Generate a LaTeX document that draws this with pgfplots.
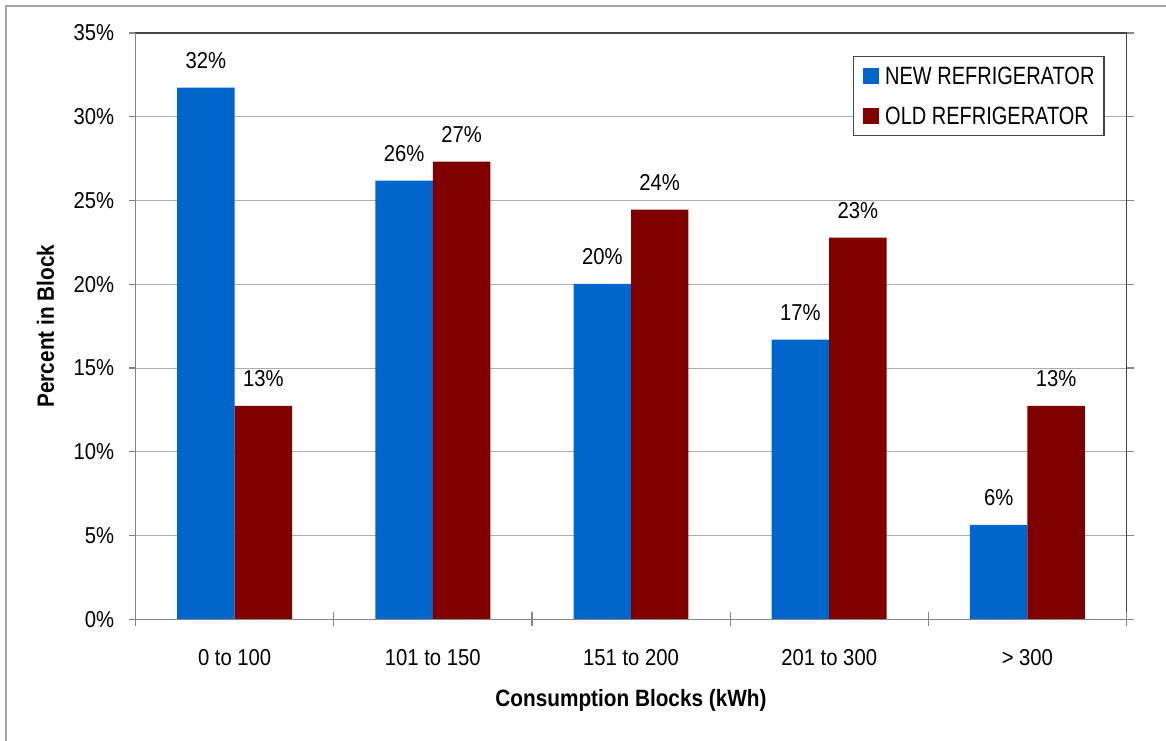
\documentclass[border=0pt]{standalone}
\usepackage{fontspec}
\setmainfont{Liberation Sans}[FakeStretch=0.88]
\newfontfamily\legendfont{Liberation Sans}[FakeStretch=0.8]
\usepackage{pgfplots}
\pgfplotsset{compat=1.18}

\definecolor{newbar}{RGB}{0,102,204}
\definecolor{oldbar}{RGB}{128,0,0}
\definecolor{gridgray}{RGB}{172,172,172}
\definecolor{axisgray}{RGB}{134,134,134}
\definecolor{framegray}{RGB}{70,70,70}
\definecolor{outergray}{RGB}{165,165,165}

% Share of households in each monthly consumption block (percent)
\pgfplotstableread{
x  new    old
0  31.74  12.74
1  26.18  27.32
2  20.03  24.45
3  16.69  22.78
4   5.63  12.74
}\blocks

\begin{document}
\begin{tikzpicture}
\useasboundingbox (0,0) rectangle (583pt,370pt);
% outer chart frame
\draw[outergray, line width=0.8pt] (3pt,-2pt) -- (3pt,367pt) -- (586pt,367pt);
\begin{axis}[
  at={(67.75pt,60.35pt)}, anchor=south west,
  scale only axis, width=495.5pt, height=293.15pt,
  clip=false,
  font=\fontsize{11.5}{13}\selectfont,
  /pgf/number format/assume math mode=true,
  ybar, bar width=0.29,
  xmin=-0.5, xmax=4.5, ymin=0, ymax=35,
  ytick={0,5,...,35},
  yticklabel={\pgfmathprintnumber{\tick}\%},
  yticklabel style={anchor=east, inner sep=0pt, xshift=-7pt},
  xtick={0,...,4},
  xticklabels={0 to 100, 101 to 150, 151 to 200, 201 to 300, {> 300}},
  xticklabel style={anchor=center, inner sep=0pt, yshift=-15.8pt},
  xtick style={draw=none},
  ytick style={draw=axisgray, line width=0.6pt},
  tick align=outside, major tick length=3.5pt,
  ymajorgrids, grid style={gridgray, line width=0.5pt},
  axis line style={framegray, line width=0.7pt},
  xlabel={\bfseries Consumption Blocks (kWh)},
  ylabel={\bfseries Percent in Block},
  every axis x label/.style={at={(axis description cs:0.5,-0.138)}, anchor=center, font=\fontsize{11.8}{13}\selectfont},
  every axis y label/.style={at={(axis description cs:-0.0908,0.5)}, rotate=90, anchor=center, font=\fontsize{11.8}{13}\selectfont},
  nodes near coords={\pgfmathprintnumber[fixed,precision=0]{\pgfplotspointmeta}\%},
  every node near coord/.append style={anchor=south, inner sep=0pt, yshift=9.3pt, black, font=\fontsize{11.5}{13}\selectfont},
  legend style={at={(0.724,0.961)}, anchor=north west, draw=framegray, line width=0.6pt, fill=white,
    font=\legendfont\fontsize{12.5}{15}\selectfont,
    inner xsep=4.8pt, inner ysep=5.25pt, row sep=11pt, column sep=3pt,
    nodes={inner sep=0pt, text height=9pt, text depth=0pt, anchor=west}},
  legend image code/.code={\fill[#1, draw=none] (0pt,-4pt) rectangle (8pt,4pt);},
  legend cell align=left,
]
\addplot[fill=newbar, draw=none, bar shift=-0.145] table[x=x, y=new] {\blocks};
\addlegendentry{NEW REFRIGERATOR}
\addplot[fill=oldbar, draw=none, bar shift=0.145] table[x=x, y=old] {\blocks};
\addlegendentry{OLD REFRIGERATOR}
% value axis and category axis drawn over the plot-area border
\draw[axisgray, line width=0.7pt] (rel axis cs:0,1) -- (rel axis cs:0,0) -- (rel axis cs:1,0);
% separators between the consumption blocks
\pgfplotsinvokeforeach{-0.5,0.5,1.5,2.5,3.5,4.5}{
  \draw[axisgray, line width=0.6pt] (axis cs:#1,0) ++(0pt,3.5pt) -- ++(0pt,-7pt);
}
\end{axis}
\end{tikzpicture}
\end{document}
